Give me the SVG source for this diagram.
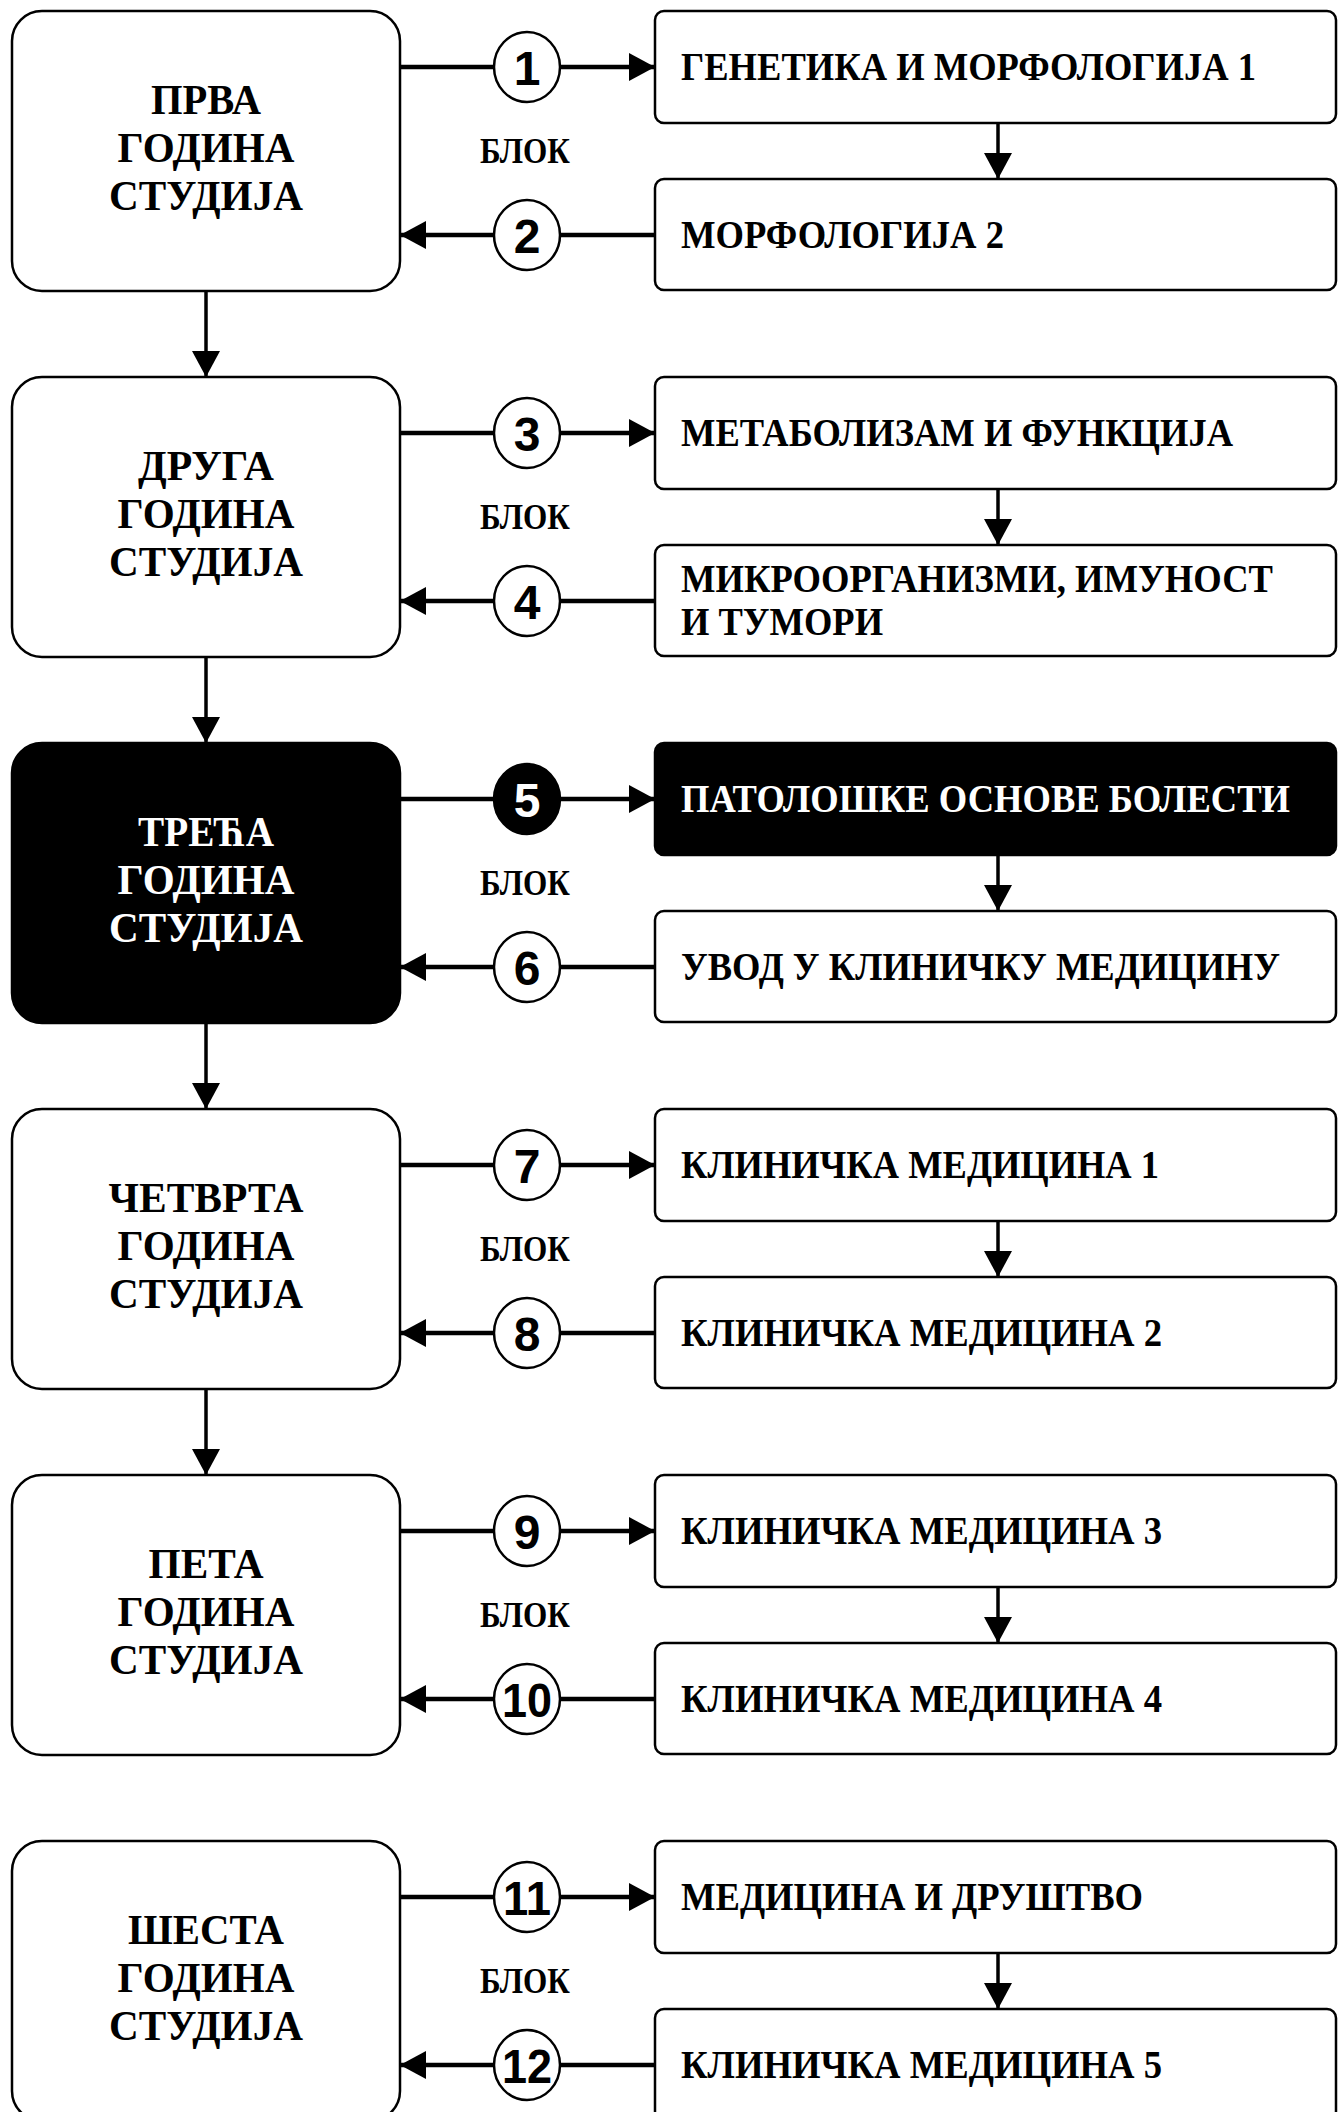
<svg xmlns="http://www.w3.org/2000/svg" width="1338" height="2112" viewBox="0 0 1338 2112">
<style>
.bg{fill:#fff}
.year{fill:#fff;stroke:#000;stroke-width:2.5}
.year.dark{fill:#000}
.blk{fill:#fff;stroke:#000;stroke-width:2.5}
.blk.dark{fill:#000}
.ylab{font-family:"Liberation Serif","Times New Roman",serif;font-weight:bold;font-size:42px;fill:#000;text-anchor:middle}
.ylab.w{fill:#fff}
.blab{font-family:"Liberation Serif","Times New Roman",serif;font-weight:bold;font-size:40px;fill:#000}
.blab.w{fill:#fff}
.blok{font-family:"Liberation Serif","Times New Roman",serif;font-weight:bold;font-size:35px;fill:#000;text-anchor:middle}
.num{fill:#fff;stroke:#000;stroke-width:2.5}
.num.dark{fill:#000}
.digit{font-family:"Liberation Sans",Arial,sans-serif;font-weight:bold;font-size:48px;fill:#000;text-anchor:middle}
.digit.w{fill:#fff}
.h{stroke:#000;stroke-width:4.5;fill:none}
.v{stroke:#000;stroke-width:3.5;fill:none}
</style>
<defs>
<marker id="ah" markerUnits="userSpaceOnUse" markerWidth="27" markerHeight="28" refX="26" refY="14" orient="auto" viewBox="0 0 27 28">
<path d="M0,0 L26,14 L0,28 Z" fill="#000"/>
</marker>
</defs>
<rect class="bg" x="0" y="0" width="1338" height="2112"/>

<g id="connectors">
<!-- year 1 -->
<line class="h" x1="400" y1="67" x2="494" y2="67"/>
<line class="h" x1="560" y1="67" x2="655" y2="67" marker-end="url(#ah)"/>
<line class="h" x1="655" y1="235" x2="560" y2="235"/>
<line class="h" x1="494" y1="235" x2="400" y2="235" marker-end="url(#ah)"/>
<line class="v" x1="998" y1="123" x2="998" y2="179" marker-end="url(#ah)"/>
<line class="v" x1="206" y1="291" x2="206" y2="377" marker-end="url(#ah)"/>
<!-- year 2 -->
<line class="h" x1="400" y1="433" x2="494" y2="433"/>
<line class="h" x1="560" y1="433" x2="655" y2="433" marker-end="url(#ah)"/>
<line class="h" x1="655" y1="601" x2="560" y2="601"/>
<line class="h" x1="494" y1="601" x2="400" y2="601" marker-end="url(#ah)"/>
<line class="v" x1="998" y1="489" x2="998" y2="545" marker-end="url(#ah)"/>
<line class="v" x1="206" y1="657" x2="206" y2="743" marker-end="url(#ah)"/>
<!-- year 3 -->
<line class="h" x1="400" y1="799" x2="494" y2="799"/>
<line class="h" x1="560" y1="799" x2="655" y2="799" marker-end="url(#ah)"/>
<line class="h" x1="655" y1="967" x2="560" y2="967"/>
<line class="h" x1="494" y1="967" x2="400" y2="967" marker-end="url(#ah)"/>
<line class="v" x1="998" y1="855" x2="998" y2="911" marker-end="url(#ah)"/>
<line class="v" x1="206" y1="1023" x2="206" y2="1109" marker-end="url(#ah)"/>
<!-- year 4 -->
<line class="h" x1="400" y1="1165" x2="494" y2="1165"/>
<line class="h" x1="560" y1="1165" x2="655" y2="1165" marker-end="url(#ah)"/>
<line class="h" x1="655" y1="1333" x2="560" y2="1333"/>
<line class="h" x1="494" y1="1333" x2="400" y2="1333" marker-end="url(#ah)"/>
<line class="v" x1="998" y1="1221" x2="998" y2="1277" marker-end="url(#ah)"/>
<line class="v" x1="206" y1="1389" x2="206" y2="1475" marker-end="url(#ah)"/>
<!-- year 5 -->
<line class="h" x1="400" y1="1531" x2="494" y2="1531"/>
<line class="h" x1="560" y1="1531" x2="655" y2="1531" marker-end="url(#ah)"/>
<line class="h" x1="655" y1="1699" x2="560" y2="1699"/>
<line class="h" x1="494" y1="1699" x2="400" y2="1699" marker-end="url(#ah)"/>
<line class="v" x1="998" y1="1587" x2="998" y2="1643" marker-end="url(#ah)"/>
<!-- year 6 -->
<line class="h" x1="400" y1="1897" x2="494" y2="1897"/>
<line class="h" x1="560" y1="1897" x2="655" y2="1897" marker-end="url(#ah)"/>
<line class="h" x1="655" y1="2065" x2="560" y2="2065"/>
<line class="h" x1="494" y1="2065" x2="400" y2="2065" marker-end="url(#ah)"/>
<line class="v" x1="998" y1="1953" x2="998" y2="2009" marker-end="url(#ah)"/>
</g>

<!-- Year nodes -->
<g id="year1">
<rect class="year" x="12" y="11" width="388" height="280" rx="30"/>
<text class="ylab" x="206" y="114" textLength="110" lengthAdjust="spacingAndGlyphs">ПРВА</text>
<text class="ylab" x="206" y="162" textLength="177" lengthAdjust="spacingAndGlyphs">ГОДИНА</text>
<text class="ylab" x="206" y="210" textLength="194" lengthAdjust="spacingAndGlyphs">СТУДИЈА</text>
</g>
<g id="year2">
<rect class="year" x="12" y="377" width="388" height="280" rx="30"/>
<text class="ylab" x="206" y="480" textLength="136" lengthAdjust="spacingAndGlyphs">ДРУГА</text>
<text class="ylab" x="206" y="528" textLength="177" lengthAdjust="spacingAndGlyphs">ГОДИНА</text>
<text class="ylab" x="206" y="576" textLength="194" lengthAdjust="spacingAndGlyphs">СТУДИЈА</text>
</g>
<g id="year3">
<rect class="year dark" x="12" y="743" width="388" height="280" rx="30"/>
<text class="ylab w" x="206" y="846" textLength="136" lengthAdjust="spacingAndGlyphs">ТРЕЋА</text>
<text class="ylab w" x="206" y="894" textLength="177" lengthAdjust="spacingAndGlyphs">ГОДИНА</text>
<text class="ylab w" x="206" y="942" textLength="194" lengthAdjust="spacingAndGlyphs">СТУДИЈА</text>
</g>
<g id="year4">
<rect class="year" x="12" y="1109" width="388" height="280" rx="30"/>
<text class="ylab" x="206" y="1212" textLength="195" lengthAdjust="spacingAndGlyphs">ЧЕТВРТА</text>
<text class="ylab" x="206" y="1260" textLength="177" lengthAdjust="spacingAndGlyphs">ГОДИНА</text>
<text class="ylab" x="206" y="1308" textLength="194" lengthAdjust="spacingAndGlyphs">СТУДИЈА</text>
</g>
<g id="year5">
<rect class="year" x="12" y="1475" width="388" height="280" rx="30"/>
<text class="ylab" x="206" y="1578" textLength="115" lengthAdjust="spacingAndGlyphs">ПЕТА</text>
<text class="ylab" x="206" y="1626" textLength="177" lengthAdjust="spacingAndGlyphs">ГОДИНА</text>
<text class="ylab" x="206" y="1674" textLength="194" lengthAdjust="spacingAndGlyphs">СТУДИЈА</text>
</g>
<g id="year6">
<rect class="year" x="12" y="1841" width="388" height="280" rx="30"/>
<text class="ylab" x="206" y="1944" textLength="156" lengthAdjust="spacingAndGlyphs">ШЕСТА</text>
<text class="ylab" x="206" y="1992" textLength="177" lengthAdjust="spacingAndGlyphs">ГОДИНА</text>
<text class="ylab" x="206" y="2040" textLength="194" lengthAdjust="spacingAndGlyphs">СТУДИЈА</text>
</g>

<!-- БЛОК labels -->
<g id="blok-labels">
<text class="blok" x="525" y="163" textLength="90" lengthAdjust="spacingAndGlyphs">БЛОК</text>
<text class="blok" x="525" y="529" textLength="90" lengthAdjust="spacingAndGlyphs">БЛОК</text>
<text class="blok" x="525" y="895" textLength="90" lengthAdjust="spacingAndGlyphs">БЛОК</text>
<text class="blok" x="525" y="1261" textLength="90" lengthAdjust="spacingAndGlyphs">БЛОК</text>
<text class="blok" x="525" y="1627" textLength="90" lengthAdjust="spacingAndGlyphs">БЛОК</text>
<text class="blok" x="525" y="1993" textLength="90" lengthAdjust="spacingAndGlyphs">БЛОК</text>
</g>

<!-- Number circles -->
<g id="n1"><ellipse class="num" cx="527" cy="67" rx="33" ry="35"/><text class="digit" x="527" y="85">1</text></g>
<g id="n2"><ellipse class="num" cx="527" cy="235" rx="33" ry="35"/><text class="digit" x="527" y="253">2</text></g>
<g id="n3"><ellipse class="num" cx="527" cy="433" rx="33" ry="35"/><text class="digit" x="527" y="451">3</text></g>
<g id="n4"><ellipse class="num" cx="527" cy="601" rx="33" ry="35"/><text class="digit" x="527" y="619">4</text></g>
<g id="n5"><ellipse class="num dark" cx="527" cy="799" rx="33" ry="35"/><text class="digit w" x="527" y="817">5</text></g>
<g id="n6"><ellipse class="num" cx="527" cy="967" rx="33" ry="35"/><text class="digit" x="527" y="985">6</text></g>
<g id="n7"><ellipse class="num" cx="527" cy="1165" rx="33" ry="35"/><text class="digit" x="527" y="1183">7</text></g>
<g id="n8"><ellipse class="num" cx="527" cy="1333" rx="33" ry="35"/><text class="digit" x="527" y="1351">8</text></g>
<g id="n9"><ellipse class="num" cx="527" cy="1531" rx="33" ry="35"/><text class="digit" x="527" y="1549">9</text></g>
<g id="n10"><ellipse class="num" cx="527" cy="1699" rx="33" ry="35"/><text class="digit" x="527" y="1717" textLength="50" lengthAdjust="spacingAndGlyphs">10</text></g>
<g id="n11"><ellipse class="num" cx="527" cy="1897" rx="33" ry="35"/><text class="digit" x="527" y="1915" textLength="48" lengthAdjust="spacingAndGlyphs">11</text></g>
<g id="n12"><ellipse class="num" cx="527" cy="2065" rx="33" ry="35"/><text class="digit" x="527" y="2083" textLength="50" lengthAdjust="spacingAndGlyphs">12</text></g>

<!-- Block nodes -->
<g id="b1"><rect class="blk" x="655" y="11" width="681" height="112" rx="9"/><text class="blab" x="681" y="80" textLength="575" lengthAdjust="spacingAndGlyphs">ГЕНЕТИКА И МОРФОЛОГИЈА 1</text></g>
<g id="b2"><rect class="blk" x="655" y="179" width="681" height="111" rx="9"/><text class="blab" x="681" y="248" textLength="323" lengthAdjust="spacingAndGlyphs">МОРФОЛОГИЈА 2</text></g>
<g id="b3"><rect class="blk" x="655" y="377" width="681" height="112" rx="9"/><text class="blab" x="681" y="446" textLength="552" lengthAdjust="spacingAndGlyphs">МЕТАБОЛИЗАМ И ФУНКЦИЈА</text></g>
<g id="b4"><rect class="blk" x="655" y="545" width="681" height="111" rx="9"/><text class="blab" x="681" y="592" textLength="592" lengthAdjust="spacingAndGlyphs">МИКРООРГАНИЗМИ, ИМУНОСТ</text><text class="blab" x="681" y="635" textLength="202" lengthAdjust="spacingAndGlyphs">И ТУМОРИ</text></g>
<g id="b5"><rect class="blk dark" x="655" y="743" width="681" height="112" rx="9"/><text class="blab w" x="681" y="812" textLength="609" lengthAdjust="spacingAndGlyphs">ПАТОЛОШКЕ ОСНОВЕ БОЛЕСТИ</text></g>
<g id="b6"><rect class="blk" x="655" y="911" width="681" height="111" rx="9"/><text class="blab" x="681" y="980" textLength="599" lengthAdjust="spacingAndGlyphs">УВОД У КЛИНИЧКУ МЕДИЦИНУ</text></g>
<g id="b7"><rect class="blk" x="655" y="1109" width="681" height="112" rx="9"/><text class="blab" x="681" y="1178" textLength="478" lengthAdjust="spacingAndGlyphs">КЛИНИЧКА МЕДИЦИНА 1</text></g>
<g id="b8"><rect class="blk" x="655" y="1277" width="681" height="111" rx="9"/><text class="blab" x="681" y="1346" textLength="481" lengthAdjust="spacingAndGlyphs">КЛИНИЧКА МЕДИЦИНА 2</text></g>
<g id="b9"><rect class="blk" x="655" y="1475" width="681" height="112" rx="9"/><text class="blab" x="681" y="1544" textLength="481" lengthAdjust="spacingAndGlyphs">КЛИНИЧКА МЕДИЦИНА 3</text></g>
<g id="b10"><rect class="blk" x="655" y="1643" width="681" height="111" rx="9"/><text class="blab" x="681" y="1712" textLength="481" lengthAdjust="spacingAndGlyphs">КЛИНИЧКА МЕДИЦИНА 4</text></g>
<g id="b11"><rect class="blk" x="655" y="1841" width="681" height="112" rx="9"/><text class="blab" x="681" y="1910" textLength="462" lengthAdjust="spacingAndGlyphs">МЕДИЦИНА И ДРУШТВО</text></g>
<g id="b12"><rect class="blk" x="655" y="2009" width="681" height="111" rx="9"/><text class="blab" x="681" y="2078" textLength="481" lengthAdjust="spacingAndGlyphs">КЛИНИЧКА МЕДИЦИНА 5</text></g>
</svg>
